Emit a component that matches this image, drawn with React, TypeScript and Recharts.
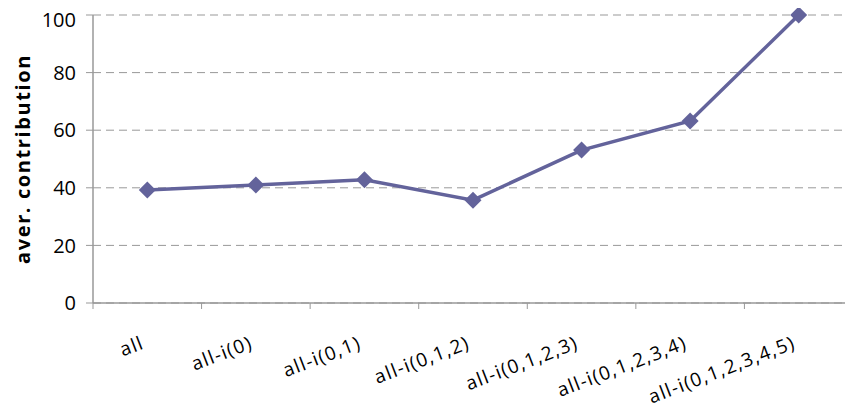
import { LineChart, Line, XAxis, YAxis, CartesianGrid, Label } from "recharts";

const categories = [
  "all",
  "all-i(0)",
  "all-i(0,1)",
  "all-i(0,1,2)",
  "all-i(0,1,2,3)",
  "all-i(0,1,2,3,4)",
  "all-i(0,1,2,3,4,5)",
];
const contribution = [39.2, 41.0, 42.8, 35.7, 53.1, 63.2, 100];
const yTicks = [0, 20, 40, 60, 80, 100];

const LINE = "#63639b";
const GRID = "#999999";
const FONT = "'Open Sans', sans-serif";

// categories sit at i + 0.5 so the tick marks fall between them (0..7)
const data = categories.map((name, i) => ({ pos: i + 0.5, name, value: contribution[i] }));
const xTicks: number[] = [];
for (let i = 0; i <= categories.length; i++) {
  xTicks.push(i);
  if (i < categories.length) xTicks.push(i + 0.5);
}

function XTick(props: any) {
  const { x, y, payload } = props;
  const v = payload.value as number;
  if (Number.isInteger(v)) {
    return <line x1={x} y1={y} x2={x} y2={y + 6} stroke={GRID} strokeWidth={1} />;
  }
  const label = categories[Math.floor(v)];
  const ax = x - 2;
  const ay = y + 45;
  return (
    <text
      x={ax}
      y={ay}
      textAnchor="end"
      transform={`rotate(-21 ${ax} ${ay})`}
      fontFamily={FONT}
      fontSize={19}
      letterSpacing={1.3}
      fill="#000"
    >
      {label}
    </text>
  );
}

function Diamond(props: any) {
  const { cx, cy } = props;
  if (cx == null || cy == null) return null;
  const r = 8.5;
  return <path d={`M${cx},${cy - r}L${cx + r},${cy}L${cx},${cy + r}L${cx - r},${cy}Z`} fill={LINE} />;
}

export default function App() {
  return (
    <LineChart width={845} height={400} data={data} margin={{ top: 7, right: 0, left: 0, bottom: 5 }}>
      <CartesianGrid vertical={false} stroke={GRID} strokeDasharray="8 5" />
      <XAxis
        dataKey="pos"
        type="number"
        domain={[0, categories.length]}
        ticks={xTicks}
        interval={0}
        height={100}
        tickSize={0}
        tickMargin={0}
        tickLine={false}
        axisLine={{ stroke: GRID, strokeWidth: 1.5 }}
        tick={<XTick />}
      />
      <YAxis
        domain={[0, 100]}
        ticks={yTicks}
        width={85}
        tickSize={7}
        tickMargin={10}
        tickLine={{ stroke: GRID }}
        axisLine={{ stroke: GRID, strokeWidth: 1.5 }}
        tick={{ fill: "#000", fontSize: 20, fontFamily: FONT }}
      >
        <Label
          value="aver. contribution"
          angle={-90}
          position="insideLeft"
          offset={15}
          textAnchor="middle"
          style={{
            textAnchor: "middle",
            fontFamily: FONT,
            fontSize: 20,
            fontWeight: 700,
            letterSpacing: 1.6,
            fill: "#000",
          }}
        />
      </YAxis>
      <Line
        dataKey="value"
        stroke={LINE}
        strokeWidth={3.5}
        dot={<Diamond />}
        activeDot={false}
        isAnimationActive={false}
      />
    </LineChart>
  );
}
